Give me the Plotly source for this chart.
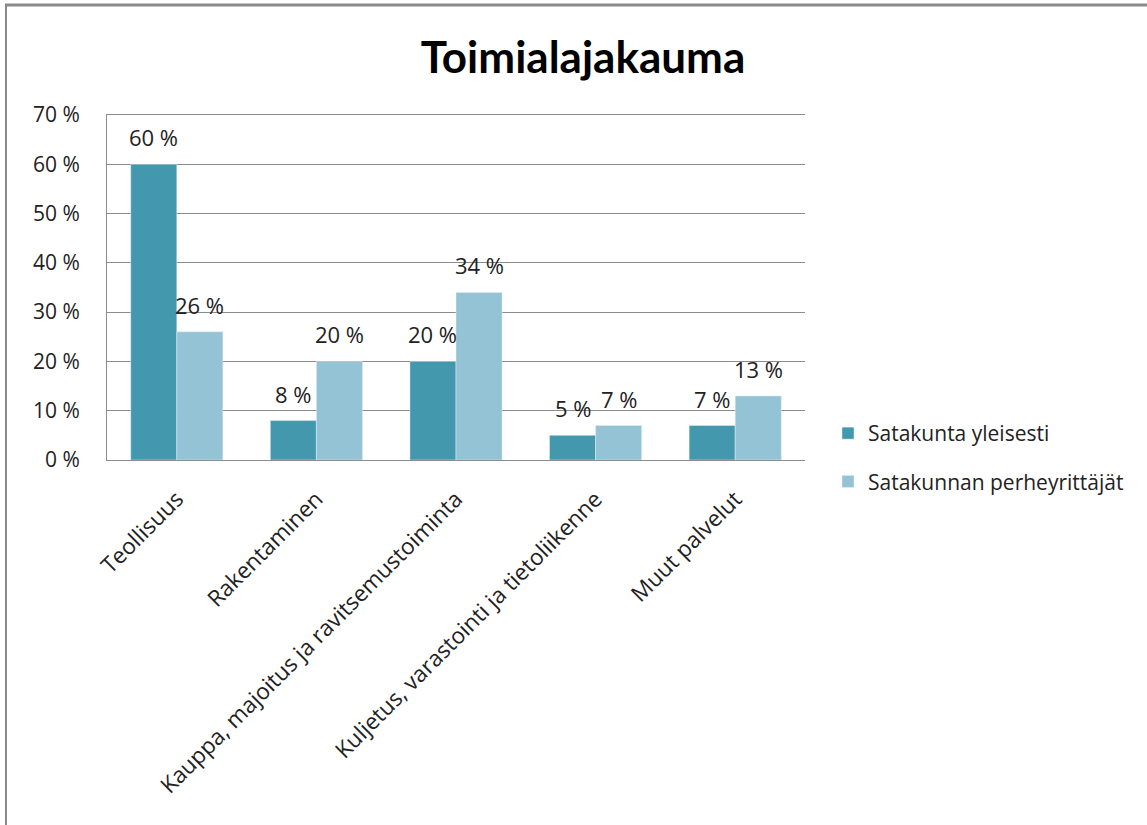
import plotly.graph_objects as go

categories = ["Teollisuus", "Rakentaminen", "Kauppa, majoitus ja ravitsemustoiminta",
              "Kuljetus, varastointi ja tietoliikenne", "Muut palvelut"]
satakunta_yleisesti = [60, 8, 20, 5, 7]
perheyrittajat = [26, 20, 34, 7, 13]
series_names = ["Satakunta yleisesti", "Satakunnan perheyrittäjät"]
y_ticks = [0, 10, 20, 30, 40, 50, 60, 70]
y_ticklabels = ["0 %", "10 %", "20 %", "30 %", "40 %", "50 %", "60 %", "70 %"]

W, H = 1147, 825
L, R, T, B = 107, 805, 115, 460
FONT = "Open Sans, Lato, sans-serif"
BARGAP = 0.34
colors = ["#4398AE", "#93C3D4"]

fig = go.Figure()
for j, (name, vals) in enumerate(zip(series_names, [satakunta_yleisesti, perheyrittajat])):
    fig.add_trace(go.Bar(x=categories, y=vals, name=name, marker_color=colors[j],
                         legendgroup=name))

pw, ph = R - L, B - T
def px(x): return (x - L) / pw
def py(y): return (B - y) / ph

# value labels above bars (offset computed from the bar layout)
bar_w = pw / len(categories) * (1 - BARGAP) / 2
annotations = []
for j, vals in enumerate([satakunta_yleisesti, perheyrittajat]):
    for cat, v in zip(categories, vals):
        annotations.append(dict(x=cat, y=v, text=f"{v} %", showarrow=False,
                                xshift=(j - 0.5) * bar_w, yshift=27, yanchor="middle",
                                font=dict(size=22, color="#222")))

fig.update_layout(
    width=W, height=H,
    margin=dict(l=L, r=W - R, t=T, b=H - B, autoexpand=False),
    paper_bgcolor="white", plot_bgcolor="white",
    font=dict(family=FONT, size=21, color="#222"),
    title=dict(text="<b>Toimialajakauma</b>", x=583 / W, xanchor="center",
               y=1 - 58 / H, yanchor="middle",
               font=dict(size=44, color="black", family="Lato, sans-serif")),
    barmode="group", bargap=BARGAP, bargroupgap=0,
    legend=dict(x=px(828), y=py(413), xanchor="left", yanchor="top",
                font=dict(size=21), tracegroupgap=18, itemwidth=30),
    xaxis=dict(tickangle=-45, showline=True, mirror=True, linecolor="#8c8c8c", linewidth=1,
               tickfont=dict(size=22.5), ticks="", ticklabelstandoff=16),
    yaxis=dict(range=[0, 70], tickvals=y_ticks, ticktext=y_ticklabels,
               showgrid=True, gridcolor="#8c8c8c", gridwidth=1,
               showline=True, linecolor="#8c8c8c", linewidth=1,
               tickfont=dict(size=21), ticks="", zeroline=False, ticklabelstandoff=22),
    annotations=annotations,
    shapes=[
        dict(type="line", xref="paper", yref="paper", x0=px(5), x1=px(1147), y0=py(5), y1=py(5),
             line=dict(color="#8a8a8a", width=3)),
        dict(type="line", xref="paper", yref="paper", x0=px(6), x1=px(6), y0=py(4), y1=py(825),
             line=dict(color="#8a8a8a", width=2)),
    ],
)

fig.write_html("out.html", config={"displayModeBar": False},
               post_script="document.body.style.margin='0';document.body.style.padding='0';")
